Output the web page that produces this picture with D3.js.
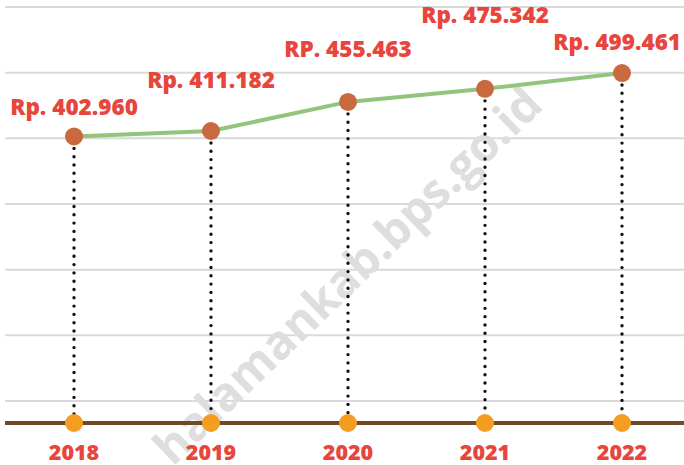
<!DOCTYPE html>
<html>
<head>
<meta charset="utf-8">
<script src="https://cdn.jsdelivr.net/npm/d3@7"></script>
<style>
  html, body { margin: 0; padding: 0; background: #fff; }
  svg { display: block; }
  text { font-family: "Open Sans", "Noto Sans", sans-serif; font-weight: 800; }
</style>
</head>
<body>
<div id="chart"></div>
<script>
// data
var years = ["2018", "2019", "2020", "2021", "2022"];
var values = [402960, 411182, 455463, 475342, 499461];
var valueLabels = ["Rp. 402.960", "Rp. 411.182", "RP. 455.463", "Rp. 475.342", "Rp. 499.461"];
var gridTicks = [0, 100000, 200000, 300000, 400000, 500000, 600000];
var watermark = "halamankab.bps.go.id";

// how far each value label sits above its point (px)
var labelLift = [21, 43, 45, 66, 23];

var width = 684, height = 465;

var svg = d3.select("#chart")
  .append("svg")
  .attr("width", width)
  .attr("height", height);

var x = d3.scalePoint()
  .domain(years)
  .range([74, 622]);

var y = d3.scaleLinear()
  .domain([0, 600000])
  .range([401, 7]);

var baseY = 423;

// gridlines
svg.append("g")
  .selectAll("line")
  .data(gridTicks)
  .enter()
  .append("line")
  .attr("x1", 5)
  .attr("x2", width)
  .attr("y1", function(d) { return y(d); })
  .attr("y2", function(d) { return y(d); })
  .attr("stroke", "#dadada")
  .attr("stroke-width", 2);

// watermark (runs off the bottom edge like the original)
svg.append("text")
  .attr("transform", "translate(350,278) rotate(-44)")
  .attr("text-anchor", "middle")
  .attr("dy", "0.27em")
  .style("font-size", "47px")
  .style("font-weight", 700)
  .style("fill", "#dedede")
  .text(watermark);

// baseline
svg.append("line")
  .attr("x1", 5)
  .attr("x2", width)
  .attr("y1", baseY)
  .attr("y2", baseY)
  .attr("stroke", "#6e4a27")
  .attr("stroke-width", 4);

var rows = years.map(function(yr, i) {
  return { year: yr, value: values[i], label: valueLabels[i], lift: labelLift[i] };
});

// dotted drop lines
svg.append("g")
  .selectAll("line")
  .data(rows)
  .enter()
  .append("line")
  .attr("x1", function(d) { return x(d.year); })
  .attr("x2", function(d) { return x(d.year); })
  .attr("y1", function(d) { return y(d.value) + 12; })
  .attr("y2", baseY - 8)
  .attr("stroke", "#111")
  .attr("stroke-width", 3.4)
  .attr("stroke-linecap", "round")
  .attr("stroke-dasharray", "0,8.3");

// green line
var line = d3.line()
  .x(function(d) { return x(d.year); })
  .y(function(d) { return y(d.value); });

svg.append("path")
  .datum(rows)
  .attr("fill", "none")
  .attr("stroke", "#93c47d")
  .attr("stroke-width", 4)
  .attr("d", line);

// points
svg.append("g")
  .selectAll("circle")
  .data(rows)
  .enter()
  .append("circle")
  .attr("cx", function(d) { return x(d.year); })
  .attr("cy", function(d) { return y(d.value); })
  .attr("r", 9)
  .attr("fill", "#c96a3e");

// baseline dots
svg.append("g")
  .selectAll("circle")
  .data(rows)
  .enter()
  .append("circle")
  .attr("cx", function(d) { return x(d.year); })
  .attr("cy", baseY)
  .attr("r", 9)
  .attr("fill", "#f59d20");

// value labels, kept inside the right edge
svg.append("g")
  .selectAll("text")
  .data(rows)
  .enter()
  .append("text")
  .attr("x", function(d) { return x(d.year); })
  .attr("y", function(d) { return y(d.value) - d.lift; })
  .attr("text-anchor", "middle")
  .style("font-size", "22.5px")
  .style("fill", "#e8453c")
  .text(function(d) { return d.label; })
  .each(function(d) {
    var half = this.getComputedTextLength() / 2;
    var cx = Math.min(x(d.year), width - 3 - half);
    d3.select(this).attr("x", cx);
  });

// year labels
svg.append("g")
  .selectAll("text")
  .data(rows)
  .enter()
  .append("text")
  .attr("x", function(d) { return x(d.year); })
  .attr("y", 460)
  .attr("text-anchor", "middle")
  .style("font-size", "21.5px")
  .style("fill", "#e8453c")
  .text(function(d) { return d.year; });
</script>
</body>
</html>
